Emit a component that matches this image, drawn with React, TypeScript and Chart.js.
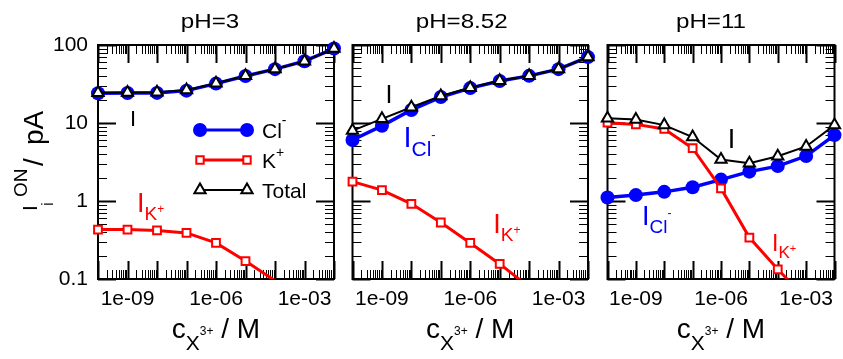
import React, { useEffect, useRef } from "react";
import { Chart, registerables } from "chart.js";
Chart.register(...registerables);

const FONT = '"Liberation Sans", Arial, Helvetica, sans-serif';

// ---------- data ----------
const concentrations = [1e-10, 1e-9, 1e-8, 1e-7, 1e-6, 1e-5, 1e-4, 1e-3, 1e-2];
const xTickValues = [1e-9, 1e-6, 1e-3];
const yTickValues = [0.1, 1, 10, 100];
const panelTitles = ["pH=3", "pH=8.52", "pH=11"];

const clPH3 = [24.1, 24.2, 24.3, 26.0, 32.0, 40.0, 49.0, 62.0, 90.0];
const kPH3 = [0.43, 0.43, 0.42, 0.39, 0.29, 0.17, 0.095, 0.05, 0.025];
const totalPH3 = [24.5, 24.6, 24.7, 26.4, 32.3, 40.2, 49.1, 62.1, 90.0];

const clPH852 = [6.05, 9.2, 14.7, 21.5, 28.0, 34.5, 40.2, 49.0, 70.0];
const kPH852 = [1.77, 1.38, 0.92, 0.53, 0.29, 0.156, 0.079, 0.04, 0.02];
const totalPH852 = [8.0, 11.3, 15.9, 22.2, 28.4, 34.8, 40.4, 49.2, 70.0];

const clPH11 = [1.11, 1.19, 1.31, 1.5, 1.88, 2.38, 2.8, 3.77, 7.0];
const kPH11 = [10.1, 9.6, 8.4, 4.75, 1.45, 0.34, 0.133, 0.056, 0.025];
const totalPH11 = [11.5, 11.1, 9.4, 6.6, 3.4, 3.05, 3.75, 5.0, 9.4];

// ---------- layout ----------
type Part = { t: string; size: number; dy?: number; color?: string };

const BLUE = "#0000ff";
const RED = "#ff0000";
const BLACK = "#000000";

const mainI = (size: number, color: string): Part[] => [{ t: "I", size, color }];
const ionI = (size: number, color: string, sub: string, sup: string, supDy: number): Part[] => [
  { t: "I", size, color },
  { t: sub, size: Math.round(size * 0.72), dy: Math.round(size * 0.3), color },
  { t: sup, size: Math.round(size * 0.46), dy: supDy, color },
];

// annotation anchors given as log10 of data coordinates
const panels = [
  {
    cl: clPH3, k: kPH3, total: totalPH3, title: panelTitles[0],
    left: 0, width: 344, area: [98, 334], titleCx: 210, yLabels: true,
    notes: [
      { lx: -8.915, ly: 0.962, parts: mainI(22, BLACK) },
      { lx: -8.678, ly: -0.141, parts: ionI(27, RED, "K", "+", 1) },
    ],
  },
  {
    cl: clPH852, k: kPH852, total: totalPH852, title: panelTitles[1],
    left: 344, width: 255, area: [352, 588], titleCx: 461.7, yLabels: false,
    notes: [
      { lx: -8.88, ly: 1.256, parts: mainI(25, BLACK) },
      { lx: -8.27, ly: 0.692, parts: ionI(29, BLUE, "Cl", "-", -8) },
      { lx: -5.22, ly: -0.41, parts: ionI(27, RED, "K", "+", 1) },
    ],
  },
  {
    cl: clPH11, k: kPH11, total: totalPH11, title: panelTitles[2],
    left: 599, width: 244, area: [607, 841], titleCx: 711, yLabels: false,
    notes: [
      { lx: -5.76, ly: 0.679, parts: mainI(27, BLACK) },
      { lx: -8.78, ly: -0.308, parts: ionI(27, BLUE, "Cl", "-", -8) },
      { lx: -4.2, ly: -0.641, parts: ionI(23, RED, "K", "+", 1) },
    ],
  },
];

const PLOT_TOP = 45;
const PLOT_BOTTOM = 279;
const H = 359;

function drawRich(ctx: CanvasRenderingContext2D, x: number, y: number, parts: Part[], fallback = BLACK) {
  let cx = x;
  for (const p of parts) {
    ctx.font = `${p.size}px ${FONT}`;
    ctx.fillStyle = p.color ?? fallback;
    ctx.fillText(p.t, cx, y + (p.dy ?? 0));
    cx += ctx.measureText(p.t).width;
  }
  return cx - x;
}
function richWidth(ctx: CanvasRenderingContext2D, parts: Part[]) {
  let w = 0;
  for (const p of parts) {
    ctx.font = `${p.size}px ${FONT}`;
    w += ctx.measureText(p.t).width;
  }
  return w;
}

function marker(ctx: CanvasRenderingContext2D, kind: string, x: number, y: number) {
  ctx.save();
  ctx.beginPath();
  if (kind === "circle") {
    ctx.arc(x, y, 7, 0, Math.PI * 2);
    ctx.fillStyle = BLUE;
    ctx.fill();
  } else if (kind === "rect") {
    ctx.rect(x - 3.7, y - 3.7, 7.4, 7.4);
    ctx.fillStyle = "#fff";
    ctx.fill();
    ctx.lineWidth = 2;
    ctx.strokeStyle = RED;
    ctx.stroke();
  } else {
    const r = 6.5;
    ctx.moveTo(x, y - r);
    ctx.lineTo(x + r * 0.866, y + r * 0.5);
    ctx.lineTo(x - r * 0.866, y + r * 0.5);
    ctx.closePath();
    ctx.fillStyle = "#fff";
    ctx.fill();
    ctx.lineWidth = 2;
    ctx.strokeStyle = BLACK;
    ctx.stroke();
  }
  ctx.restore();
}

function makeDeco(pi: number) {
  const p = panels[pi];
  return {
    id: "deco" + pi,
    beforeDatasetsDraw(chart: any) {
      const ctx: CanvasRenderingContext2D = chart.ctx;
      const { left, right, top, bottom } = chart.chartArea;
      const xs = chart.scales.x;
      const ys = chart.scales.y;
      ctx.save();
      ctx.strokeStyle = BLACK;
      // x ticks (inward, top & bottom)
      for (let e = -10; e <= -2; e++) {
        for (let m = 1; m <= 9; m++) {
          const v = m * Math.pow(10, e);
          if (v > 1.0001e-2) break;
          const px = Math.round(xs.getPixelForValue(v)) + 0.5;
          const len = m === 1 ? 18 : 9;
          ctx.lineWidth = m === 1 ? 2 : 1;
          ctx.beginPath();
          ctx.moveTo(px, bottom);
          ctx.lineTo(px, bottom - len);
          ctx.moveTo(px, top);
          ctx.lineTo(px, top + len);
          ctx.stroke();
        }
      }
      // y ticks (inward, left & right)
      for (let e = -1; e <= 2; e++) {
        for (let m = 1; m <= 9; m++) {
          const v = m * Math.pow(10, e);
          if (v > 100.01) break;
          const py = Math.round(ys.getPixelForValue(v)) + 0.5;
          const len = m === 1 ? 18 : 9;
          ctx.lineWidth = m === 1 ? 2 : 1;
          ctx.beginPath();
          ctx.moveTo(left, py);
          ctx.lineTo(left + len, py);
          ctx.moveTo(right, py);
          ctx.lineTo(right - len, py);
          ctx.stroke();
        }
      }
      ctx.lineWidth = 2;
      ctx.strokeRect(left, top, right - left, bottom - top);
      ctx.restore();
    },
    afterDraw(chart: any) {
      const ctx: CanvasRenderingContext2D = chart.ctx;
      const { left, right } = chart.chartArea;
      const xs = chart.scales.x;
      const ys = chart.scales.y;
      ctx.save();
      ctx.textAlign = "left";
      ctx.textBaseline = "alphabetic";
      // panel title
      ctx.font = `21px ${FONT}`;
      const tw = ctx.measureText(p.title).width * 1.15;
      ctx.save();
      ctx.translate(p.titleCx - p.left - tw / 2, 28);
      ctx.scale(1.15, 1);
      ctx.fillStyle = BLACK;
      ctx.fillText(p.title, 0, 0);
      ctx.restore();
      // x axis title
      const xt: Part[] = [
        { t: "c", size: 28 },
        { t: "X", size: 21, dy: 12 },
        { t: "3+", size: 12, dy: -3 },
        { t: " / M", size: 28 },
      ];
      const xw = richWidth(ctx, xt);
      drawRich(ctx, (left + right) / 2 - xw / 2, 338, xt);
      // annotations
      for (const n of p.notes) {
        const px = xs.getPixelForValue(Math.pow(10, n.lx));
        const py = ys.getPixelForValue(Math.pow(10, n.ly));
        drawRich(ctx, px, py, n.parts);
      }
      if (pi === 0) {
        // y axis title (rotated)
        ctx.save();
        ctx.translate(0, 209);
        ctx.rotate(-Math.PI / 2);
        ctx.fillStyle = BLACK;
        ctx.font = `21px ${FONT}`;
        ctx.fillText("I", -2, 37);
        ctx.font = `17px ${FONT}`;
        ctx.fillText("i", 3, 53);
        ctx.font = `19px ${FONT}`;
        ctx.fillText("ON", 12, 27);
        ctx.font = `28px ${FONT}`;
        ctx.fillText("/", 43, 43);
        ctx.fillText("pA", 64, 43);
        ctx.restore();
        // legend
        const rows = [
          { kind: "circle", color: BLUE, lw: 3, y: 130, parts: [{ t: "Cl", size: 21 }, { t: "-", size: 14, dy: -13 }] },
          { kind: "rect", color: RED, lw: 3, y: 160, parts: [{ t: "K", size: 21 }, { t: "+", size: 14, dy: -11 }] },
          { kind: "tri", color: BLACK, lw: 2, y: 190, parts: [{ t: "Total", size: 21 }] },
        ];
        for (const r of rows) {
          ctx.beginPath();
          ctx.strokeStyle = r.color;
          ctx.lineWidth = r.lw;
          ctx.moveTo(200, r.y);
          ctx.lineTo(247, r.y);
          ctx.stroke();
          marker(ctx, r.kind, 200, r.y);
          marker(ctx, r.kind, 247, r.y);
          drawRich(ctx, 262, r.y + 8, r.parts as Part[]);
        }
      }
      ctx.restore();
    },
  };
}

function fmtX(v: number) {
  const s = Number(v).toExponential(0);
  return s.replace(/e-(\d)$/, "e-0$1");
}

function makeConfig(pi: number): any {
  const p = panels[pi];
  const pts = (arr: number[]) => concentrations.map((x, i) => ({ x, y: arr[i] }));
  const clip = { left: 14, right: 14, top: 14, bottom: 0 };
  const hideLow = (r: number) => (c: any) => (c.raw && c.raw.y < 0.1 ? 0 : r);
  return {
    type: "line",
    data: {
      datasets: [
        {
          label: "Total",
          data: pts(p.total),
          borderColor: BLACK,
          borderWidth: 2,
          pointStyle: "triangle",
          pointRadius: hideLow(6.5),
          pointBackgroundColor: "#ffffff",
          pointBorderColor: BLACK,
          pointBorderWidth: 2,
          order: 0,
          clip,
        },
        {
          label: "K+",
          data: pts(p.k),
          borderColor: RED,
          borderWidth: 3,
          pointStyle: "rect",
          pointRadius: hideLow(5.5),
          pointBackgroundColor: "#ffffff",
          pointBorderColor: RED,
          pointBorderWidth: 2,
          order: 1,
          clip,
        },
        {
          label: "Cl-",
          data: pts(p.cl),
          borderColor: BLUE,
          borderWidth: 3.5,
          pointStyle: "circle",
          pointRadius: hideLow(7),
          pointBackgroundColor: BLUE,
          pointBorderColor: BLUE,
          pointBorderWidth: 0,
          order: 2,
          clip,
        },
      ],
    },
    options: {
      animation: false,
      responsive: false,
      maintainAspectRatio: false,
      layout: { padding: { left: 0, right: p.left + p.width - p.area[1], top: PLOT_TOP, bottom: 0 } },
      plugins: { legend: { display: false }, tooltip: { enabled: false }, title: { display: false } },
      scales: {
        x: {
          type: "logarithmic",
          min: 1e-10,
          max: 1e-2,
          grid: { display: false, drawTicks: false },
          border: { display: false },
          ticks: {
            autoSkip: false,
            maxRotation: 0,
            padding: 8,
            color: BLACK,
            font: { family: FONT, size: 21 },
            callback: (v: number) => fmtX(v),
          },
          afterBuildTicks: (s: any) => {
            s.ticks = xTickValues.map((v) => ({ value: v }));
          },
          afterFit: (s: any) => {
            s.height = H - PLOT_BOTTOM;
          },
        },
        y: {
          type: "logarithmic",
          min: 0.1,
          max: 100,
          grid: { display: false, drawTicks: false },
          border: { display: false },
          ticks: {
            display: p.yLabels,
            autoSkip: false,
            padding: 10,
            color: BLACK,
            font: { family: FONT, size: 21 },
            callback: (v: number) => String(v),
          },
          afterBuildTicks: (s: any) => {
            s.ticks = yTickValues.map((v) => ({ value: v }));
          },
          afterFit: (s: any) => {
            s.width = p.area[0] - p.left;
          },
        },
      },
    },
    plugins: [makeDeco(pi)],
  };
}

function Panel({ pi }: { pi: number }) {
  const ref = useRef<HTMLCanvasElement | null>(null);
  const p = panels[pi];
  useEffect(() => {
    if (!ref.current) return;
    const chart = new Chart(ref.current, makeConfig(pi));
    return () => chart.destroy();
  }, [pi]);
  return (
    <canvas
      ref={ref}
      width={p.width}
      height={H}
      style={{ position: "absolute", left: p.left, top: 0, width: p.width, height: H }}
    />
  );
}

export default function App() {
  return (
    <div style={{ position: "absolute", left: 0, top: 0, width: 843, height: H, background: "#fff" }}>
      {panels.map((_, i) => (
        <Panel key={i} pi={i} />
      ))}
    </div>
  );
}
